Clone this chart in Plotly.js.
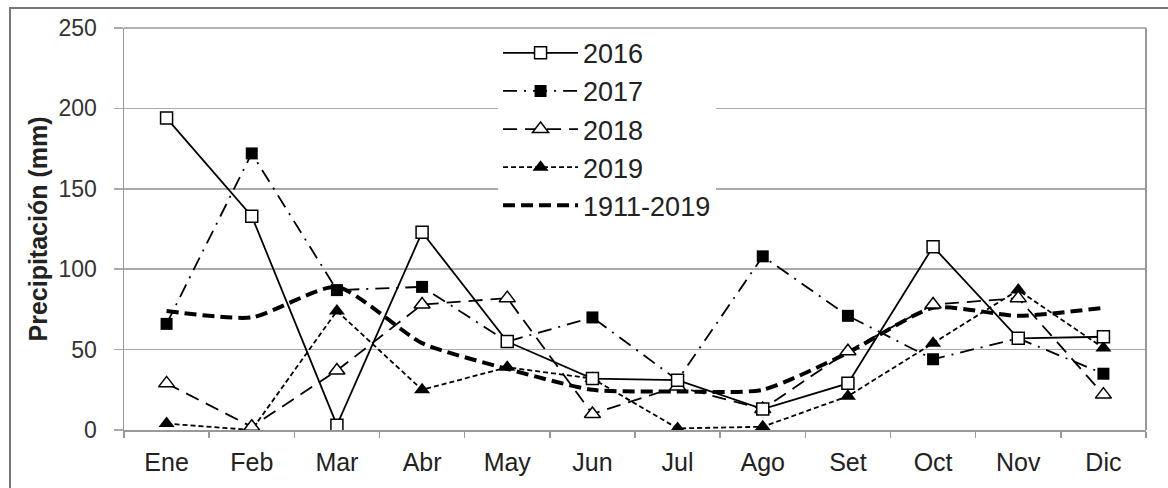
<!DOCTYPE html>
<html><head><meta charset="utf-8">
<script src="https://cdn.plot.ly/plotly-3.0.1.min.js"></script>
<style>
html,body{margin:0;padding:0;background:#fff;}
#chart{width:1168px;height:488px;position:absolute;left:0;top:0;}
#frame{position:absolute;left:9px;top:7px;width:1170px;height:490px;border:2px solid #777;pointer-events:none;box-sizing:border-box;}
</style></head>
<body>
<div id="chart"></div>
<div id="frame"></div>
<script>
const months = ["Ene","Feb","Mar","Abr","May","Jun","Jul","Ago","Set","Oct","Nov","Dic"];
const y2016 = [194,133,3,123,55,32,31,13,29,114,57,58];
const y2017 = [66,172,87,89,55,70,31,108,71,44,57,35];
const y2018 = [29,2,37,78,82,10,27,13,49,78,82,22];
const y2019 = [4,0,74,25,39,32,1,2,21,54,87,51];
const yHist = [74,70,89,54,38,25,24,25,48,76,71,76];
const yTicks = [0,50,100,150,200,250];

const traces = [
  {name:"1911-2019", x:months, y:yHist, mode:"lines", legendrank:5,
   line:{color:"#000", width:4, dash:"12px,6px", shape:"spline", smoothing:0.6}},
  {name:"2019", x:months, y:y2019, mode:"lines+markers", legendrank:4,
   line:{color:"#000", width:1.8, dash:"5px,3px"},
   marker:{symbol:"triangle-up", size:14, color:"#000"}},
  {name:"2018", x:months, y:y2018, mode:"lines+markers", legendrank:3,
   line:{color:"#000", width:1.8, dash:"14px,8px"},
   marker:{symbol:"triangle-up", size:14, color:"#fff", line:{color:"#000", width:1.5}}},
  {name:"2017", x:months, y:y2017, mode:"lines+markers", legendrank:2,
   line:{color:"#000", width:1.8, dash:"14px,7px,2px,7px"},
   marker:{symbol:"square", size:12, color:"#000"}},
  {name:"2016", x:months, y:y2016, mode:"lines+markers", legendrank:1,
   line:{color:"#000", width:1.8},
   marker:{symbol:"square", size:12, color:"#fff", line:{color:"#000", width:1.5}}}
];

const layout = {
  width:1168, height:488,
  margin:{l:124, r:22, t:28, b:58},
  paper_bgcolor:"#fff", plot_bgcolor:"#fff",
  font:{family:"Liberation Sans, Arial, sans-serif", color:"#222", size:22},
  showlegend:true,
  legend:{x:0.366, y:0.998, xanchor:"left", yanchor:"top", bgcolor:"#fff",
    font:{size:27, color:"#222"}, tracegroupgap:0, itemwidth:75,
    traceorder:"normal"},
  xaxis:{type:"category", categoryorder:"array", categoryarray:months,
    range:[-0.5,11.5], showgrid:false, showline:true, linecolor:"#999", linewidth:2,
    ticks:"outside", tickson:"boundaries", ticklen:6, tickcolor:"#999", tickwidth:1.5,
    ticklabelstandoff:9,
    tickfont:{size:25, color:"#222"}, mirror:false, zeroline:false},
  yaxis:{range:[0,250], tickvals:yTicks, ticktext:yTicks.map(String),
    showgrid:true, gridcolor:"#aaa", gridwidth:1.5,
    showline:true, linecolor:"#999", linewidth:1.5,
    ticks:"outside", ticklen:9, tickcolor:"#aaa", tickwidth:1.5,
    ticklabelstandoff:12,
    tickfont:{size:23, color:"#333"}, zeroline:false,
    title:{text:"<b>Precipitación (mm)</b>", font:{size:25, color:"#222"}, standoff:4}},
  shapes:[
    {type:"line", xref:"paper", yref:"paper", x0:1, x1:1, y0:0, y1:1, line:{color:"#999", width:2}},
    {type:"line", xref:"paper", yref:"paper", x0:0, x1:1, y0:1, y1:1, line:{color:"#999", width:1.5}}
  ]
};

Plotly.newPlot("chart", traces, layout, {displayModeBar:false, staticPlot:true});
</script>
</body></html>
